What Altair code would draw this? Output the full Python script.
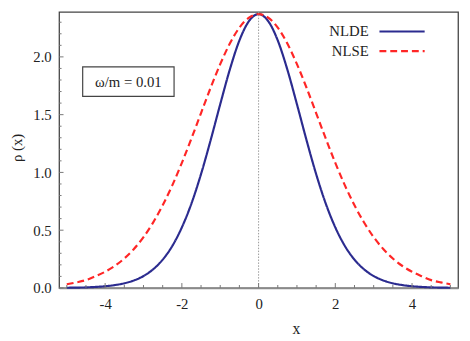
import altair as alt
import pandas as pd

# ---------------- data ----------------
x_values = [-5.0, -4.75, -4.5, -4.25, -4.0, -3.75, -3.5, -3.25, -3.0, -2.75,
            -2.5, -2.25, -2.0, -1.75, -1.5, -1.25, -1.0, -0.75, -0.5, -0.25,
            0.0, 0.25, 0.5, 0.75, 1.0, 1.25, 1.5, 1.75, 2.0, 2.25,
            2.5, 2.75, 3.0, 3.25, 3.5, 3.75, 4.0, 4.25, 4.5, 4.75, 5.0]

rho_nlde = [0.002, 0.003, 0.005, 0.009, 0.015, 0.025, 0.040, 0.065, 0.103, 0.161,
            0.245, 0.363, 0.524, 0.731, 0.986, 1.279, 1.590, 1.890, 2.142, 2.310,
            2.370, 2.310, 2.142, 1.890, 1.590, 1.279, 0.986, 0.731, 0.524, 0.363,
            0.245, 0.161, 0.103, 0.065, 0.040, 0.025, 0.015, 0.009, 0.005, 0.003, 0.002]

rho_nlse = [0.032, 0.048, 0.068, 0.102, 0.140, 0.190, 0.255, 0.337, 0.440, 0.566,
            0.715, 0.888, 1.083, 1.294, 1.514, 1.733, 1.937, 2.115, 2.253, 2.340,
            2.370, 2.340, 2.253, 2.115, 1.937, 1.733, 1.514, 1.294, 1.083, 0.888,
            0.715, 0.566, 0.440, 0.337, 0.255, 0.190, 0.140, 0.102, 0.068, 0.048, 0.032]

series_names = ["NLDE", "NLSE"]
series_colors = ["#2B2B8F", "#FF2626"]
annotation_text = "ω/m = 0.01"
x_title = "x"
y_title = "ρ (x)"

x_major_ticks = [-4, -2, 0, 2, 4]
x_minor_ticks = [-5.0, -4.5, -3.5, -3.0, -2.5, -1.5, -1.0, -0.5,
                 0.5, 1.0, 1.5, 2.5, 3.0, 3.5, 4.5, 5.0]
y_major_ticks = [0.0, 0.5, 1.0, 1.5, 2.0]
y_minor_ticks = [0.1, 0.2, 0.3, 0.4, 0.6, 0.7, 0.8, 0.9, 1.1, 1.2, 1.3, 1.4,
                 1.6, 1.7, 1.8, 1.9, 2.1, 2.2, 2.3]
center_line = [0.0]

# ---------------- layout ----------------
W, H = 406, 281
FONT = "Liberation Serif"
TXT = "#222222"
TICK = "#777777"

xs = alt.Scale(domain=[-5.2, 5.2], nice=False, zero=False)
ys = alt.Scale(domain=[0, 2.39], nice=False, zero=False)

df_lines = pd.DataFrame({
    "x": x_values * 2,
    "rho": rho_nlde + rho_nlse,
    "series": [series_names[0]] * len(x_values) + [series_names[1]] * len(x_values),
})

lines = alt.Chart(df_lines).mark_line(interpolate="monotone", strokeWidth=2.2).encode(
    x=alt.X("x:Q", scale=xs, axis=alt.Axis(
        values=x_major_ticks, title=x_title, ticks=False, grid=False,
        labelExpr="replace(datum.label, '\u2212', '-')",
        labelFont=FONT, labelFontSize=15, labelColor=TXT, labelPadding=9,
        domainColor="#8a8a8a", domainWidth=1.8,
        titleFont=FONT, titleFontSize=16, titleFontWeight="normal", titleColor=TXT,
        titleX=241, titleY=41, titleAlign="center", titleBaseline="middle")),
    y=alt.Y("rho:Q", scale=ys, axis=alt.Axis(
        values=y_major_ticks, format=".1f", title=y_title, ticks=False, grid=False,
        domain=False, labelFont=FONT, labelFontSize=15, labelColor=TXT, labelPadding=8,
        titleFont=FONT, titleFontSize=15, titleFontWeight="normal", titleColor=TXT,
        titleX=-43, titleY=138, titleAngle=270, titleAlign="center",
        titleBaseline="middle")),
    color=alt.Color("series:N", scale=alt.Scale(domain=series_names, range=series_colors),
                    legend=None),
    strokeDash=alt.StrokeDash("series:N", scale=alt.Scale(domain=series_names,
                              range=[[1, 0], [7, 4]]), legend=None),
)

zero_line = alt.Chart(pd.DataFrame({"v": center_line})).mark_rule(
    color="#999999", strokeWidth=1, strokeDash=[1.5, 1.5]).encode(
    x=alt.X("v:Q", scale=xs, axis=None))

def xticks(vals, size):
    return alt.Chart(pd.DataFrame({"t": vals})).mark_rule(color=TICK, strokeWidth=1).encode(
        x=alt.X("t:Q", scale=xs, axis=None), y=alt.value(H), y2=alt.value(H - size))

def yticks(vals, size):
    return alt.Chart(pd.DataFrame({"t": vals})).mark_rule(color=TICK, strokeWidth=1).encode(
        y=alt.Y("t:Q", scale=ys, axis=None), x=alt.value(0), x2=alt.value(size))

one = pd.DataFrame({"a": [0]})

box = alt.Chart(one).mark_rect(fill="white", stroke="#444444", strokeWidth=1.2).encode(
    x=alt.value(24), x2=alt.value(117), y=alt.value(56), y2=alt.value(86))
box_text = alt.Chart(one).mark_text(font=FONT, fontSize=15, color=TXT,
                                    align="center", baseline="middle").encode(
    text=alt.value(annotation_text), x=alt.value(70.5), y=alt.value(71))

legend_layers = []
dashes = [[1, 0], [7, 4]]
for i, name in enumerate(series_names):
    yy = 20 + 20 * i
    legend_layers.append(alt.Chart(one).mark_text(
        font=FONT, fontSize=15, color=TXT, align="right", baseline="middle").encode(
        text=alt.value(name), x=alt.value(315), y=alt.value(yy)))
    legend_layers.append(alt.Chart(one).mark_rule(
        color=series_colors[i], strokeWidth=2.2, strokeDash=dashes[i]).encode(
        x=alt.value(326), x2=alt.value(372), y=alt.value(yy)))

chart = alt.layer(
    lines, zero_line,
    xticks(x_major_ticks, 5), xticks(x_minor_ticks, 3),
    yticks(y_major_ticks, 4.5), yticks(y_minor_ticks, 2.5),
    box, box_text, *legend_layers,
).resolve_axis(
    x="independent", y="independent"
).properties(
    width=W, height=H,
    autosize=alt.AutoSizeParams(type="none"),
    padding={"left": 52, "top": 1, "right": 4, "bottom": 46},
).configure(
    background="white"
).configure_view(
    stroke="#444444", strokeWidth=1.3
)

chart.save("out.html", embed_options={"renderer": "svg", "actions": False})
